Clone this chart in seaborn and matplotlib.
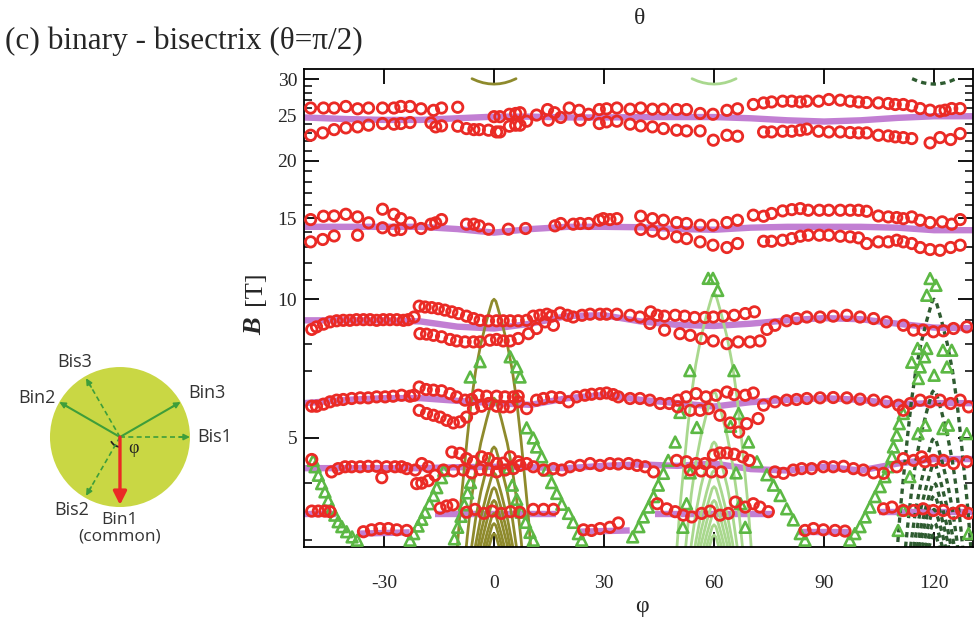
import numpy as np
import pandas as pd
import matplotlib
matplotlib.use("Agg")
import matplotlib.pyplot as plt
from matplotlib.ticker import FixedLocator, NullFormatter
from matplotlib.patches import Circle, Arc
import seaborn as sns

# ---------------- measured oscillation fields (red circles), B in tesla vs angle phi (deg)
phi_a_hi = [-50, -46.5, -43.6, -40.4, -37.2, -34.2, -30.4, -27.3, -25.4, -22.9, -19.9, -16.5, -14.3, -9.9,
            0, 1.6, 4.2, 5.9, 7.1, 11.6, 14.6, 16.5, 18.2, 20.5, 23.2, 25.8, 28.7, 30.7, 33.5,
            37.1, 40, 43.2, 46.2, 49.8, 52.5, 56.2, 59.7, 63.5, 66.4, 70.7, 73.5, 75.7, 78.7, 81.2, 83.5,
            85.3, 88.5, 91.3, 94.4, 97.1, 99.4, 101.6, 104.8, 107.5, 109.4, 111.6, 113.9, 116.2, 118.9,
            121.6, 123, 124.8, 127.1]
b_a_hi = [26.0, 26.0, 26.0, 26.2, 25.9, 26.0, 26.0, 26.0, 26.2, 26.2, 25.9, 25.7, 26.0, 26.1,
          24.9, 24.9, 25.2, 25.3, 25.4, 25.1, 25.8, 25.4, 24.8, 26.0, 25.7, 25.2, 25.8, 25.9, 26.0,
          25.85, 26.0, 25.85, 25.85, 25.8, 25.8, 25.3, 25.2, 25.7, 25.9, 26.46, 26.67, 26.8, 26.9, 26.9, 26.8,
          26.9, 26.9, 27.13, 27.04, 26.9, 26.8, 26.72, 26.67, 26.59, 26.46, 26.46, 26.28, 25.93, 25.72,
          25.6, 25.72, 25.93, 25.93]
phi_a_lo = [-50, -46.7, -43.6, -40.4, -37.2, -34.2, -30.4, -27.3, -25.4, -22.9, -17.2, -15.9, -14.3, -9.9,
            -7.5, -5.5, -4, -1.5, 0.7, 1.6, 4.2, 5.9, 7.1, 8.9, 14.8, 23.5, 28.7, 30.7, 33.5,
            37.1, 40, 43.2, 46.2, 49.8, 52.5, 56.2, 59.8, 63.5, 66.4, 73.5, 75.7, 78.7, 81.2, 83.5, 85.3,
            88.5, 91.3, 94.4, 97.1, 99.4, 101.6, 104.8, 107.5, 109.4, 111.6, 113.9, 118.9, 121.6, 124.5, 127.1]
b_a_lo = [22.69, 22.96, 23.34, 23.54, 23.66, 23.86, 24.06, 23.98, 24.06, 24.18, 24.14, 23.66, 23.78, 23.74,
          23.46, 23.34, 23.34, 23.27, 23.07, 23.07, 23.74, 23.86, 23.86, 24.34, 24.46, 24.46, 24.06, 24.26, 24.34,
          23.98, 23.78, 23.66, 23.46, 23.27, 23.19, 23.19, 22.14, 22.69, 22.58, 23.07, 23.07, 23.15, 23.15, 23.27, 23.4,
          23.15, 23.07, 23.07, 23.0, 22.96, 22.96, 22.69, 22.62, 22.51, 22.43, 22.32, 21.84, 22.43, 22.21, 22.88]

phi_b_hi = [-50, -46.5, -43.6, -40.4, -37.2, -34.2, -30.4, -27.3, -25.4, -22.9,
            -19.9, -17.2, -15.9, -14.3, -7.5, -5.5, -4, -1.5, 3.9, 8.6, 16.6, 18.2, 21.6, 23.5, 25.8, 28.7, 29.8, 31.6, 33.5,
            40, 43.2, 46.2, 49.8, 52.5, 56.2, 59.7, 63.5, 66.4, 70.7, 73.5, 75.7, 78.7, 81.2, 83.5, 85.7, 88.7, 91.3,
            94.4, 97.1, 99.4, 101.6, 104.8, 107.5, 109.8, 111.6, 113.9, 116.2, 118.9, 122.2, 124.8, 127.1]
b_b_hi = [14.89, 15.14, 15.16, 15.29, 15.09, 14.65, 15.68, 15.29, 14.96, 14.65,
          14.24, 14.55, 14.65, 14.89, 14.55, 14.55, 14.43, 14.19, 14.19, 14.24, 14.43, 14.6, 14.55, 14.6, 14.6, 14.84, 14.96, 14.89, 14.96,
          15.14, 14.96, 14.84, 14.67, 14.6, 14.48, 14.48, 14.67, 14.84, 15.22, 15.14, 15.35, 15.55, 15.65, 15.73, 15.6, 15.6, 15.6,
          15.6, 15.6, 15.6, 15.52, 15.16, 15.09, 15.04, 14.96, 15.09, 14.84, 14.67, 14.72, 14.55, 14.89]
phi_b_lo = [-50, -46.7, -43.6, -37.2, -30.4, -27.3, -25.4,
            40, 43.2, 46.2, 49.8, 52.5, 56.2, 59.7, 63.5, 66.4, 73.5, 75.7, 78.7, 81.2, 83.5, 85.7, 88.7, 91.3,
            94.4, 97.1, 99.4, 101.6, 104.8, 107.5, 109.8, 111.6, 113.9, 116.2, 118.9, 121.6, 124.5, 127.1]
b_b_lo = [13.32, 13.48, 13.72, 13.77, 14.29, 14.12, 14.17,
          14.17, 14.05, 13.88, 13.66, 13.54, 13.32, 13.10, 12.95, 13.21, 13.36, 13.36, 13.43, 13.54, 13.7, 13.77, 13.77, 13.77,
          13.7, 13.66, 13.59, 13.21, 13.32, 13.32, 13.43, 13.32, 13.21, 12.95, 12.82, 12.77, 12.95, 13.1]

phi_c = [-49.7, -48.4, -46.5, -44.7, -42.9, -41.1, -39.3, -37.5, -35.6, -33.8, -32, -30.2, -28.4, -26.5, -24.7, -23.4, -21.8,
         -20.4, -18.8, -17, -15.2, -13.4, -11.5, -9.7, -7.5, -5.6, -3.8, -1.5, 0.7, 2.5, 4.4, 6.6, 8.9, 10.7, 12.5, 14.4,
         15.7, 18, 20, 21.6, 24, 26.2, 28.9, 30.7, 33.5,
         37.1, 39.8, 42.7, 44.5, 46.5, 49.4, 52, 54.7, 57.5, 59.8, 62.5, 65.5, 68.5, 71,
         74.4, 76.6, 79.8, 82.5, 85.3, 88.9, 92.5, 96.2, 99.8, 103.5, 107, 111.6, 114.4, 117, 119.8, 122.5, 125.3, 128.9,
         -20.2, -18.4, -16.5, -14.3, -12, -10.2, -7.9, -5.6, -3.8, -1.1, 0.7, 2.5, 4.4, 6.6, 9.4, 11.6, 13.9, 16.2,
         42.5, 46.5, 50.7, 53.5, 56.6, 59.8, 63.5, 66.6, 69.8, 72.5]
b_c = [8.6, 8.71, 8.83, 8.93, 8.98, 9.0, 9.0, 9.03, 9.03, 9.03, 9.0, 9.03, 9.03, 9.03, 9.0, 9.03, 9.15,
       9.66, 9.62, 9.59, 9.54, 9.47, 9.39, 9.31, 9.19, 9.08, 9.0, 8.98, 8.98, 8.98, 8.98, 8.98, 9.0, 9.19, 9.23, 9.28,
       9.19, 9.34, 9.23, 9.15, 9.23, 9.28, 9.28, 9.28, 9.28,
       9.23, 9.15, 9.39, 9.23, 9.19, 9.23, 9.19, 9.13, 9.13, 9.15, 9.19, 9.23, 9.31, 9.39,
       8.6, 8.78, 8.98, 9.08, 9.15, 9.15, 9.19, 9.23, 9.15, 9.08, 8.93, 8.78, 8.57, 8.57, 8.5, 8.54, 8.64, 8.71,
       8.42, 8.4, 8.35, 8.29, 8.18, 8.12, 8.08, 8.08, 8.08, 8.15, 8.18, 8.12, 8.12, 8.22, 8.42, 8.64, 8.93, 8.78,
       8.86, 8.57, 8.42, 8.35, 8.22, 8.12, 8.01, 8.08, 8.08, 8.12]

phi_d = [-49.7, -48.4, -46.5, -44.7, -42.9, -41.1, -38.8, -36.5, -34.3, -32, -29.7, -27.5, -25.2, -22.9, -21.8,
         -20.4, -18.5, -16.5, -14.3, -12, -10.2, -7.9, -6.1, -4.3, -2, 0.7, 3, 5.3, 6.6,
         -20.4, -18.4, -16.5, -14.7, -12.9, -11.1, -9.3, -7.5, -5.6, -3.4, -1.5, 0.7, 2.5, 4.4, 6.6, 8.9,
         11.6, 13.5, 15.7, 18, 20.3, 22.5, 24.8, 26.6, 28.9, 30.7, 32.5, 33.9,
         37.1, 39.8, 42.5, 45.3, 47.8, 50.1, 52.4, 55.1, 57.8, 60.5, 63.5, 65.5, 68.5, 70.7,
         50.1, 53.5, 56.2, 58.5, 61.6, 64.4, 66.7, 68.9, 72,
         73.5, 76.6, 79.8, 82.5, 85.3, 88.9, 92.5, 96.2, 99.8, 103.5, 107, 110.3, 111.6, 113.5, 116.2, 118.9,
         121.6, 124.5, 127.1, 129.4]
b_d = [5.86, 5.86, 5.92, 5.99, 6.04, 6.06, 6.09, 6.11, 6.11, 6.14, 6.14, 6.16, 6.19, 6.16, 6.19,
       6.45, 6.37, 6.35, 6.33, 6.24, 6.14, 6.04, 6.06, 6.19, 6.16, 6.16, 6.14, 6.14, 6.16,
       5.74, 5.65, 5.6, 5.55, 5.46, 5.39, 5.42, 5.55, 5.79, 5.86, 5.94, 5.86, 5.84, 5.84, 5.99, 5.79,
       6.04, 6.09, 6.14, 6.12, 5.99, 6.14, 6.19, 6.22, 6.24, 6.26, 6.21, 6.14,
       6.09, 6.09, 6.04, 5.94, 5.94, 6.04, 6.14, 6.24, 6.14, 6.19, 6.29, 6.21, 6.19, 6.26,
       5.84, 5.74, 5.74, 5.79, 5.6, 5.39, 5.15, 5.37, 5.51,
       5.89, 5.99, 6.04, 6.06, 6.09, 6.11, 6.12, 6.11, 6.07, 6.04, 5.99, 5.89, 5.74, 5.94, 6.04, 5.99,
       6.04, 5.94, 6.04, 5.84]

phi_e = [-49.7, -44.3, -42.5, -40.6, -38.8, -36.5, -34.3, -32, -30.6, -29.3, -27, -25.2, -23.8, -21.5,
         -21.1, -19.7, -17.9,
         -19.7, -17.9, -11.5, -9.3, -7.5, -5.6, -3.4, -1.5, 0.7, 2.5, 4.4, 6.6, 8.9, 10.7, 13.5, 16.2, 18.5, 20.7,
         23.4, 26.2, 28.9, 31.6, 33.9,
         -16.1, -13.8, -11.1, -8.4, -6.1, -3.8, -1.5, 0.7, 3, 5.3, 7.1,
         36.7, 39, 41.2, 43.5, 49.8, 52.5, 55.1, 57.5, 59.8, 61.6, 63.5, 65.5, 67.8, 69.6,
         53.5, 56.5, 59.3, 62,
         76.6, 78.9, 81.6, 83.9, 86.6, 89.8, 92.5, 95.3, 98, 100.7, 103.5, 106.2, 109.8, 111.6, 114.4, 116.6,
         117.5, 119.8, 122.5, 125.3, 128.9]
b_e = [4.49, 4.22, 4.29, 4.33, 4.33, 4.33, 4.34, 4.34, 4.1, 4.33, 4.33, 4.33, 4.29, 4.26,
       3.98, 3.99, 4.04,
       4.4, 4.33, 4.66, 4.63, 4.51, 4.44, 4.55, 4.51, 4.4, 4.41, 4.55, 4.44, 4.4, 4.33, 4.26, 4.29, 4.26, 4.33,
       4.36, 4.4, 4.36, 4.4, 4.39,
       4.15, 4.26, 4.24, 4.26, 4.2, 4.27, 4.26, 4.22, 4.26, 4.29, 4.36,
       4.4, 4.36, 4.33, 4.22, 4.47, 4.44, 4.4, 4.4, 4.59, 4.64, 4.64, 4.61, 4.55, 4.47,
       4.26, 4.24, 4.22, 4.22,
       4.22, 4.19, 4.26, 4.29, 4.29, 4.33, 4.33, 4.34, 4.29, 4.26, 4.2, 4.19, 4.33, 4.51, 4.47, 4.55,
       4.44, 4.47, 4.47, 4.4, 4.44]

phi_f = [-49.7, -47.9, -46.1, -44.7, -35.6, -33.4, -31.1, -28.8, -26.5, -23.8,
         -14.7, -12.9, -11.2, -7.5, -5.2, -2.8, -0.5, 2, 4.5, 7, 10.7, 13.5, 16.2,
         24.4, 26.6, 28.9, 31.6, 33.9,
         44.5, 47.1, 49.4, 51.6, 53.9, 56.6, 58.9, 61.6, 63.9, 65.8, 68.5, 70.7, 72.5, 74.8,
         84.8, 87.1, 89.8, 93, 95.7,
         106.2, 108.5, 111.6, 114.4, 117, 119.8, 122.5, 125.3, 127.5, 129.4]
b_f = [3.47, 3.47, 3.47, 3.46, 3.13, 3.16, 3.18, 3.18, 3.16, 3.15,
       3.52, 3.56, 3.58, 3.45, 3.5, 3.43, 3.47, 3.43, 3.46, 3.45, 3.5, 3.5, 3.5,
       3.16, 3.15, 3.18, 3.2, 3.27,
       3.6, 3.51, 3.46, 3.4, 3.37, 3.43, 3.47, 3.4, 3.43, 3.63, 3.54, 3.6, 3.54, 3.46,
       3.15, 3.18, 3.16, 3.15, 3.14,
       3.51, 3.54, 3.48, 3.48, 3.51, 3.48, 3.48, 3.43, 3.48, 3.43]

# ---------------- second set of measured fields (green triangles)
tri_phi = [-49.3, -48.8, -47.9, -47.0, -46.1, -45.2, -44.3, -43.4, -42.5, -41.5, -40.2, -38.7, -37.3,
           -22.9, -21.9, -20.7, -19.7, -18.8, -17.6, -16.5, -15.6, -14.3, -13.7, -6.5, -3.8,
           4.4, 6.2, 7.1, 8.9, 10.7, 11.6, 13.0, 14.4, 15.7, 17.1, 18.5, 20.3, 21.6, 23.0, 23.9,
           -10.8, -9.9, -9.0, -8.1, -7.2, -6.4, 3.9, 5.0, 6.2, 7.4, 8.6, 9.8, 10.7,
           37.8, 39.5, 40.7, 42.1, 43.5, 44.8, 46.2, 47.5, 49.4, 50.7, 53.4,
           58.4, 59.7, 61.0,
           65.4, 66.7, 69.4, 71.7, 74.4, 76.2, 78.0, 79.8, 81.6, 83.5, 84.8,
           51.5, 52.5, 53.5, 55.3, 64.5, 66.0, 67.2, 68.5,
           97.0, 98.4, 99.8, 101.2, 102.5, 103.9, 105.3, 106.6, 107.5, 108.5, 108.9, 109.8, 110.5, 111.6, 113.9,
           118.9, 120.5, 118.0, 115.5, 118.0, 117.4, 116.2, 115.7, 122.4, 124.8, 123.5, 120.0,
           115.6, 117.6, 122.4, 123.9, 128.9, 113.4, 111.6, 110.2, 129.4]
tri_b = [4.47, 4.33, 4.15, 3.98, 3.82, 3.66, 3.51, 3.40, 3.29, 3.21, 3.13, 3.05, 3.0,
         3.0, 3.1, 3.22, 3.33, 3.45, 3.6, 3.75, 3.9, 4.1, 4.25, 6.78, 7.32,
         7.5, 7.13, 6.78, 5.26, 5.0, 4.78, 4.55, 4.26, 4.0, 3.79, 3.59, 3.43, 3.28, 3.1, 3.0,
         3.02, 3.2, 3.38, 3.58, 3.8, 4.0, 4.3, 3.95, 3.68, 3.45, 3.28, 3.12, 3.0,
         3.05, 3.21, 3.37, 3.54, 3.73, 3.95, 4.19, 4.47, 4.9, 5.68, 7.0,
         11.1, 11.1, 10.45,
         7.0, 5.65, 4.9, 4.44, 4.16, 3.95, 3.75, 3.51, 3.32, 3.1, 3.0,
         3.2, 3.6, 4.2, 5.27, 5.3, 4.2, 3.6, 3.2,
         3.0, 3.1, 3.21, 3.37, 3.54, 3.73, 3.92, 4.12, 4.33, 4.55, 4.78, 5.07, 5.37, 5.65, 7.3,
         11.09, 10.72, 10.2, 7.82, 7.82, 7.5, 7.13, 6.73, 7.75, 7.75, 7.13, 6.84,
         5.11, 5.33, 5.24, 5.33, 5.11, 4.12, 3.49, 3.15, 3.1]

# ---------------- calculated fields (purple bands)
calc_phi = [-51.8, -40, -30, -20, -10, 0, 10, 20, 30, 40, 50, 60, 70, 80, 90, 100, 110, 120, 130.6]
calc_b_25 = [24.8, 24.6, 24.5, 24.5, 24.7, 24.9, 24.9, 24.8, 24.8, 24.85, 24.85, 24.85, 24.7, 24.45, 24.3, 24.45, 24.75, 24.95, 24.95]
calc_b_14 = [14.36, 14.36, 14.36, 14.36, 14.2, 13.95, 14.2, 14.36, 14.36, 14.33, 14.2, 14.15, 14.3, 14.36, 14.36, 14.36, 14.3, 14.12, 14.12]
calc_b_9 = [9.0, 9.0, 9.0, 8.95, 8.72, 8.64, 8.85, 9.2, 9.23, 8.95, 8.8, 8.75, 8.85, 9.0, 9.1, 9.05, 8.85, 8.68, 8.65]
calc_b_6 = [5.95, 6.05, 6.1, 6.1, 6.02, 5.95, 5.9, 6.1, 6.2, 6.05, 5.95, 5.85, 5.98, 6.05, 6.1, 6.05, 5.92, 5.95, 5.95]
calc_b_4 = [4.3, 4.3, 4.3, 4.3, 4.32, 4.33, 4.32, 4.3, 4.35, 4.38, 4.35, 4.4, 4.28, 4.25, 4.33, 4.25, 4.4, 4.5, 4.5]
calc_seg_phi_3 = [[-51.8, -43], [-37, -23], [-16, 17], [23, 37], [44, 76], [83, 97], [105, 130.6]]
calc_seg_b_3 = [[3.42, 3.42], [3.1, 3.12], [3.42, 3.42], [3.13, 3.15], [3.42, 3.42], [3.13, 3.13], [3.45, 3.45]]

# ---------------- Landau-level arches: common profile (fraction of peak field vs half-width in deg)
arch_ratio = [1.0, 0.99, 0.96, 0.9, 0.8, 0.7, 0.6, 0.5, 0.4, 0.35, 0.29, 0.27]
arch_half = [0.0, 0.5, 1.0, 2.0, 3.6, 5.0, 6.2, 7.3, 8.5, 9.2, 10.0, 10.3]
arch_centers = [0, 60, 120]
peaks_0 = [10.0, 6.1, 4.78, 4.2, 3.9, 3.66, 3.43, 3.26, 3.1]
peaks_60 = [10.3, 6.3, 4.9, 4.25, 3.92, 3.66, 3.43, 3.24, 3.08]
peaks_120 = [10.0, 6.35, 5.0, 4.4, 4.0, 3.75, 3.5, 3.28, 3.1]
cap_dphi = [-6, -4.5, -3, -1.5, 0, 1.5, 3, 4.5, 6]
cap_b = [30.1, 29.75, 29.5, 29.35, 29.3, 29.35, 29.5, 29.75, 30.1]

# ---------------- axes ticks
x_ticks = [-30, 0, 30, 60, 90, 120]
y_ticks = [5, 10, 15, 20, 25, 30]
y_minor = [3, 4, 6, 7, 8, 9, 11, 12, 13, 14, 16, 17, 18, 19, 21, 22, 23, 24, 26, 27, 28, 29]

# ---------------- crystal-axis sketch (directions in deg, 0 = Bis1, counter-clockwise)
dir_names = ["Bin3", "Bis1", "Bin2", "Bis3", "Bis2"]
dir_angles = [30, 0, 150, 120, 240]
dir_dashed = [False, True, False, True, True]
dir_tip = [1.0, 1.0, 1.0, 0.97, 0.97]
label_angles = [26.8, 0, 154.8, 121, 236.7]
label_radii = [1.39, 1.35, 1.31, 1.25, 1.25]

RED = "#ea2a25"
PURPLE = "#c27fd3"
TRI = "#5cb844"
OLIVE = "#8e8a2c"
LIGHT = "#a9d88e"
DARK = "#2e5b30"

sns.set_style("ticks")
plt.rcParams["font.family"] = ["Liberation Serif", "DejaVu Serif"]
plt.rcParams["axes.linewidth"] = 1.3

fig = plt.figure(figsize=(9.77, 6.23), dpi=100)
ax = fig.add_axes([0.3112, 0.1220, 0.6847, 0.7673])
ax.set_yscale("log")

# calculated bands
calc_rows = []
for k, bb in enumerate([calc_b_25, calc_b_14, calc_b_9, calc_b_6, calc_b_4]):
    for p, b in zip(calc_phi, bb):
        calc_rows.append((p, b, k))
for j, (ps, bs) in enumerate(zip(calc_seg_phi_3, calc_seg_b_3)):
    for p, b in zip(ps, bs):
        calc_rows.append((p, b, 10 + j))
calc_df = pd.DataFrame(calc_rows, columns=["phi", "B", "seg"])
sns.lineplot(data=calc_df, x="phi", y="B", units="seg", estimator=None, sort=False,
             color=PURPLE, lw=4.6, solid_capstyle="butt", ax=ax, legend=False, zorder=1)

# arches around phi = 0, 60, 120
def arch_frame(center, peaks):
    rows = []
    for n, pk in enumerate(peaks):
        left = [center - h for h in arch_half[::-1]]
        right = [center + h for h in arch_half[1:]]
        rr = arch_ratio[::-1] + arch_ratio[1:]
        for p, r in zip(left + right, rr):
            rows.append((p, pk * r, n))
    rows += [(center + d, b, 99) for d, b in zip(cap_dphi, cap_b)]
    return pd.DataFrame(rows, columns=["phi", "B", "arch"])

for center, peaks, col, ls in zip(arch_centers, [peaks_0, peaks_60, peaks_120],
                                  [OLIVE, LIGHT, DARK], ["-", "-", (0, (1.6, 1.3))]):
    sns.lineplot(data=arch_frame(center, peaks), x="phi", y="B", units="arch", estimator=None,
                 sort=False, color=col, lw=2.0 if ls == "-" else 2.4, linestyle=ls,
                 ax=ax, legend=False, zorder=2)

# triangles
sns.scatterplot(x=tri_phi, y=tri_b, marker="^", s=60, facecolor="none", edgecolor=TRI,
                linewidth=1.9, ax=ax, zorder=3)

# circles
circ_phi = phi_a_hi + phi_a_lo + phi_b_hi + phi_b_lo + phi_c + phi_d + phi_e + phi_f
circ_b = b_a_hi + b_a_lo + b_b_hi + b_b_lo + b_c + b_d + b_e + b_f
sns.scatterplot(x=circ_phi, y=circ_b, marker="o", s=56, facecolor="none", edgecolor=RED,
                linewidth=2.0, ax=ax, zorder=4)

ax.set_xlim(-51.8, 130.6)
ax.set_ylim(2.9, 31.6)
ax.set_xticks(x_ticks)
ax.set_xticklabels([str(t) for t in x_ticks])
ax.set_yticks(y_ticks)
ax.set_yticklabels([str(t) for t in y_ticks])
ax.yaxis.set_minor_locator(FixedLocator(y_minor))
ax.yaxis.set_minor_formatter(NullFormatter())
ax.tick_params(which="both", direction="in", top=True, right=True, labelsize=14, color="black")
ax.tick_params(which="major", length=11, width=1.3)
ax.tick_params(which="minor", length=6, width=1.1)
ax.tick_params(axis="x", pad=20)
ax.tick_params(axis="y", pad=5)
ax.set_xlabel("")
ax.set_ylabel("")
for s in ax.spines.values():
    s.set_color("black")

fig.text(0.005, 0.934, "(c) binary - bisectrix (\u03b8=\u03c0/2)", fontsize=22.5, ha="left", va="center")
fig.text(0.655, 0.971, "\u03b8", fontsize=17, ha="center", va="center")
fig.text(0.657, 0.026, "\u03c6", fontsize=17, ha="center", va="center")
fig.text(0.261, 0.476, "B", fontsize=19, fontweight="bold", style="italic", rotation=90,
         ha="center", va="center")
fig.text(0.261, 0.538, "[T]", fontsize=19, rotation=90, ha="center", va="center")

# crystal-axis sketch
ax2 = fig.add_axes([0.0, 0.1011, 0.2456, 0.3692])
ax2.set_xlim(-1.714, 1.714)
ax2.set_ylim(-1.757, 1.529)
ax2.axis("off")
ax2.add_patch(Circle((0, 0), 1.0, color="#c9d744", ec="none"))
GREEN = "#3e9e3a"
for name, ang, dsh, tip, la, lr in zip(dir_names, dir_angles, dir_dashed, dir_tip, label_angles, label_radii):
    c, s = np.cos(np.radians(ang)), np.sin(np.radians(ang))
    ax2.plot([0, tip * c * 0.9], [0, tip * s * 0.9], color=GREEN, lw=1.5 if not dsh else 1.2,
             ls=(0, (3, 2)) if dsh else "-")
    ax2.annotate("", xy=(tip * c, tip * s), xytext=(tip * c * 0.85, tip * s * 0.85),
                 arrowprops=dict(arrowstyle="-|>", color=GREEN, lw=1.2, mutation_scale=9,
                                 shrinkA=0, shrinkB=0))
    ax2.text(lr * np.cos(np.radians(la)), lr * np.sin(np.radians(la)), name,
             family="Open Sans", fontsize=13, ha="center", va="center", color="#333333")
ax2.annotate("", xy=(0, -0.97), xytext=(0, 0),
             arrowprops=dict(arrowstyle="-|>", color=RED, lw=2.4, mutation_scale=20,
                             shrinkA=0, shrinkB=0))
ax2.add_patch(Arc((0, 0), 0.28, 0.28, theta1=205, theta2=270, color="#222222", lw=1.3))
ax2.text(0.2, -0.16, "\u03c6", fontsize=13, ha="center", va="center", color="#222222")
ax2.text(0, -1.18, "Bin1", family="Open Sans", fontsize=12.5, ha="center", va="center", color="#333333")
ax2.text(0, -1.42, "(common)", family="Open Sans", fontsize=12.5, ha="center", va="center", color="#333333")

fig.savefig("out.png", dpi=100)
